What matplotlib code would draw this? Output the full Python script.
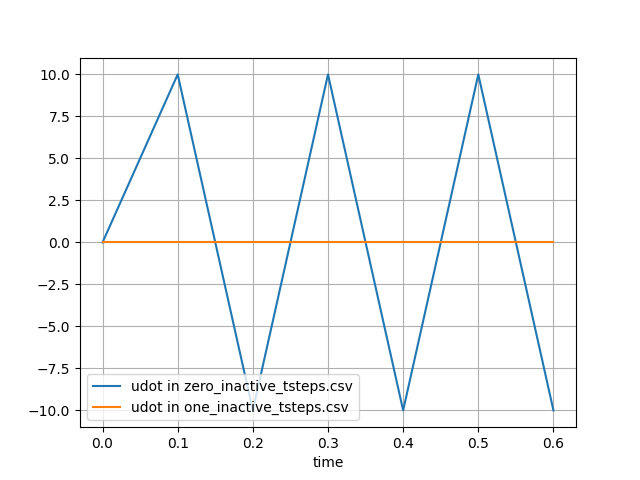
import matplotlib
matplotlib.use("Agg")
import matplotlib.pyplot as plt

time = [0.0, 0.1, 0.2, 0.3, 0.4, 0.5, 0.6]
udot_zero = [0.0, 10.0, -10.0, 10.0, -10.0, 10.0, -10.0]
udot_one = [0.0, 0.0, 0.0, 0.0, 0.0, 0.0, 0.0]

fig, ax = plt.subplots(figsize=(6.4, 4.8), dpi=100)
ax.plot(time, udot_zero, label="udot in zero_inactive_tsteps.csv")
ax.plot(time, udot_one, label="udot in one_inactive_tsteps.csv")
ax.set_xlabel("time")
ax.grid(True)
ax.legend(loc="lower left")
fig.savefig("out.png")
